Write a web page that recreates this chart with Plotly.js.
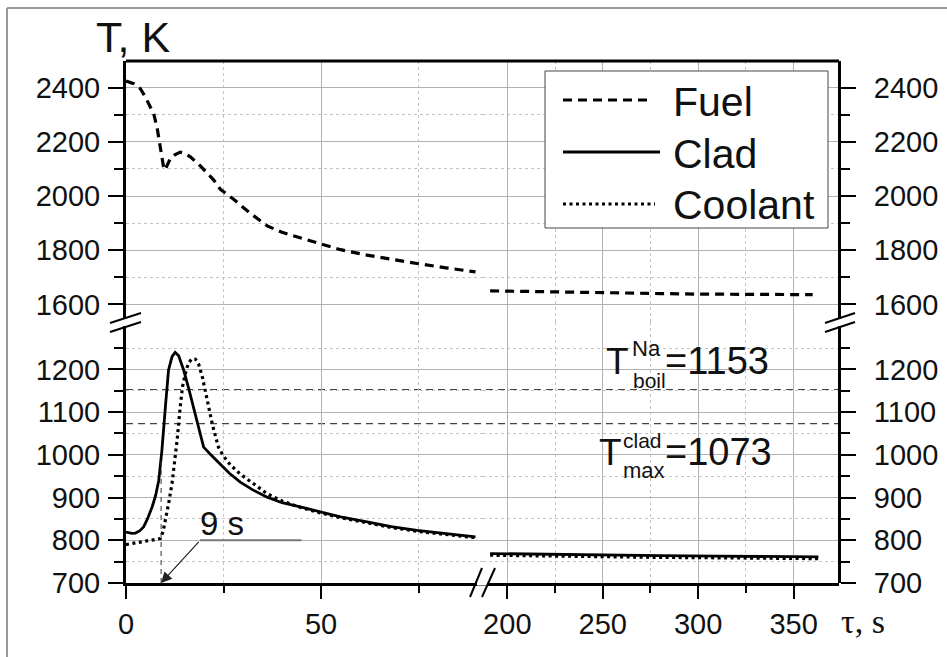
<!DOCTYPE html>
<html><head><meta charset="utf-8">
<script src="https://cdn.plot.ly/plotly-3.0.1.min.js"></script>
<style>html,body{margin:0;padding:0;background:#fff}#chart{width:947px;height:657px}</style>
</head><body><div id="chart"></div>
<script>
// ---------- data ----------
const seriesNames = ['Fuel', 'Clad', 'Coolant'];

const fuelTimeEarly = [0, 2, 3.7, 5, 6.2, 7.1, 8, 8.6, 9.6, 10, 11.4, 12.5, 13.9, 15, 16.5, 19, 22.5, 24.2, 27.6, 31.9, 36.2, 40, 44.7, 49.8, 55, 61.8, 68, 74.6, 82, 89.6];
const fuelTempEarly = [2425, 2415, 2396, 2365, 2330, 2305, 2250, 2195, 2110, 2096, 2140, 2152, 2162, 2158, 2145, 2112, 2059, 2025, 1988, 1936, 1890, 1866, 1845, 1825, 1802, 1782, 1766, 1751, 1735, 1720];
const fuelTimeLate = [191, 220, 250, 280, 300, 330, 360];
const fuelTempLate = [1650, 1646, 1643, 1640, 1638, 1637, 1636];

const cladTimeEarly = [0, 1.5, 2.4, 3.5, 4.5, 5.5, 6.7, 7.6, 8.4, 9.2, 10.1, 10.9, 11.8, 12.6, 13.5, 14.8, 16, 17.3, 18.6, 19.9, 22, 24.2, 26.5, 29.3, 32.5, 36.2, 40, 44.7, 49.8, 55, 61.8, 68, 74.6, 82, 89.6];
const cladTempEarly = [819, 816, 817, 822, 831, 850, 878, 905, 940, 1010, 1112, 1198, 1230, 1240, 1232, 1198, 1158, 1112, 1065, 1018, 998, 979, 957, 936, 918, 901, 888, 878, 866, 855, 843, 832, 823, 815, 808];
const cladTimeLate = [191, 220, 250, 280, 310, 340, 363];
const cladTempLate = [769, 767, 765, 764, 763, 762, 761];

const coolantTimeEarly = [0, 2, 3.7, 5.5, 7.1, 8.8, 9.5, 10.1, 11, 11.8, 12.5, 13.1, 13.9, 14.5, 15.2, 16, 16.9, 17.8, 18.6, 19.5, 20.3, 21.2, 22.1, 22.9, 23.7, 25, 26.7, 29.3, 32.5, 36.2, 40, 44.7, 49.8, 55, 61.8, 68, 74.6, 82, 89.6];
const coolantTempEarly = [790, 793, 796, 798, 800, 804, 820, 847, 890, 933, 985, 1034, 1112, 1160, 1190, 1215, 1225, 1224, 1213, 1185, 1151, 1110, 1073, 1045, 1018, 997, 977, 955, 933, 909, 892, 877, 864, 853, 841, 830, 821, 813, 806];
const coolantTimeLate = [191, 220, 250, 280, 310, 340, 363];
const coolantTempLate = [765, 763, 761, 760, 759, 758, 757];

const xTicksEarly = [0, 50];
const xMinorEarly = [25, 75];
const xTicksLate = [200, 250, 300, 350];
const xMinorLate = [225, 275, 325];
const yTicksLow = [700, 800, 900, 1000, 1100, 1200];
const yMinorLow = [750, 850, 950, 1050, 1150, 1250];
const yTicksHigh = [1600, 1800, 2000, 2200, 2400];
const yMinorHigh = [1700, 1900, 2100, 2300];

const limitValues = [1153, 1073];        // T_boil(Na), T_max(clad)
const onsetTime = 9;                       // "9 s"
const onsetTempTop = 990;                  // clad temperature at 9 s
const leaderTimes = [19, 45];
const leaderTemp = 800;

// ---------- geometry helpers (layout only) ----------
const W = 947, H = 657, ML = 126, MR = 108, MT = 61, MB = 74;
const PW = W - ML - MR, PH = H - MT - MB;
const px = x => (x - ML) / PW;
const py = y => (H - MB - y) / PH;

const font = 'Liberation Sans, Arial, sans-serif';
const black = '#000';

const traces = [
  {x: fuelTimeEarly, y: fuelTempEarly, xaxis: 'x', yaxis: 'y2', name: seriesNames[0],
   mode: 'lines', line: {color: black, width: 3.2, dash: '9px,6px'}},
  {x: fuelTimeLate, y: fuelTempLate, xaxis: 'x2', yaxis: 'y2', name: seriesNames[0],
   mode: 'lines', line: {color: black, width: 3.2, dash: '9px,6px'}},
  {x: coolantTimeEarly, y: coolantTempEarly, xaxis: 'x', yaxis: 'y', name: seriesNames[2],
   mode: 'lines', line: {color: black, width: 3.2, dash: '3px,3.5px'}},
  {x: coolantTimeLate, y: coolantTempLate, xaxis: 'x2', yaxis: 'y', name: seriesNames[2],
   mode: 'lines', line: {color: black, width: 3.2, dash: '3px,3.5px'}},
  {x: cladTimeEarly, y: cladTempEarly, xaxis: 'x', yaxis: 'y', name: seriesNames[1],
   mode: 'lines', line: {color: black, width: 2.8}},
  {x: cladTimeLate, y: cladTempLate, xaxis: 'x2', yaxis: 'y', name: seriesNames[1],
   mode: 'lines', line: {color: black, width: 2.8}},
  // helpers so that the right-hand axes exist
  {x: [], y: [], xaxis: 'x2', yaxis: 'y3', mode: 'lines', showlegend: false},
  {x: [], y: [], xaxis: 'x2', yaxis: 'y4', mode: 'lines', showlegend: false}
];

const gridMajor = '#b2b2b2', gridMinor = '#c4c4c4';
const tickFont = {family: font, size: 29, color: '#111'};

function xAxis(domain, range, ticks, minor) {
  return {
    domain: domain, range: range, anchor: 'y',
    tickmode: 'array', tickvals: ticks, ticktext: ticks.map(String),
    ticks: 'outside', ticklen: 13, tickwidth: 2, tickcolor: black,
    showline: true, linecolor: black, linewidth: 3,
    showgrid: true, gridcolor: gridMajor, gridwidth: 1,
    zeroline: false, tickfont: tickFont, ticklabelstandoff: 0,
    minor: {tickmode: 'array', tickvals: minor, ticks: 'outside', ticklen: 7, tickwidth: 2,
            tickcolor: black, showgrid: true, gridcolor: gridMinor, gridwidth: 1, griddash: 'dot'},
    fixedrange: true
  };
}
function yAxis(domain, range, ticks, minor, extra) {
  return Object.assign({
    domain: domain, range: range,
    tickmode: 'array', tickvals: ticks, ticktext: ticks.map(String),
    ticks: 'outside', ticklen: 15, tickwidth: 2, tickcolor: black,
    showline: true, linecolor: black, linewidth: 3,
    showgrid: true, gridcolor: gridMajor, gridwidth: 1,
    zeroline: false, tickfont: tickFont, ticklabelstandoff: 2,
    minor: {tickmode: 'array', tickvals: minor, ticks: 'outside', ticklen: 9, tickwidth: 2,
            tickcolor: black, showgrid: true, gridcolor: gridMinor, gridwidth: 1, griddash: 'dot'},
    fixedrange: true
  }, extra || {});
}

const lowRange = [700, 1311], highRange = [1535, 2498.6];

const shapes = [];
function line(x0, y0, x1, y1, color, width, dash) {
  shapes.push({type: 'line', xref: 'paper', yref: 'paper', x0: px(x0), y0: py(y0), x1: px(x1), y1: py(y1),
               line: {color: color, width: width, dash: dash || 'solid'}, layer: 'above'});
}
// outer frame
line(7, 8, 7, 660, '#9a9a9a', 2);
line(7, 8, 950, 8, '#9a9a9a', 2);
// top border of the plot
shapes.push({type: 'line', xref: 'paper', yref: 'paper', x0: 0, x1: 1, y0: 1, y1: 1,
             line: {color: black, width: 3}, layer: 'above'});
// limit lines
limitValues.forEach(v => shapes.push({type: 'line', xref: 'paper', yref: 'y', x0: 0, x1: 1, y0: v, y1: v,
  line: {color: '#444', width: 1.2, dash: '7px,5px'}, layer: 'below'}));
// onset marker
shapes.push({type: 'line', xref: 'x', yref: 'y', x0: onsetTime, x1: onsetTime, y0: lowRange[0], y1: onsetTempTop,
  line: {color: '#333', width: 1, dash: '5px,4px'}, layer: 'above'});
shapes.push({type: 'line', xref: 'x', yref: 'y', x0: leaderTimes[0], x1: leaderTimes[1], y0: leaderTemp, y1: leaderTemp,
  line: {color: '#777', width: 2}, layer: 'above'});
// legend box
shapes.push({type: 'rect', xref: 'paper', yref: 'paper', x0: px(545), x1: px(828), y0: py(71), y1: py(228),
  fillcolor: '#fff', line: {color: '#444', width: 1}, layer: 'above'});
line(563, 100, 653, 100, black, 3.2, '9px,6px');
line(563, 152, 660, 152, black, 2.8);
line(563, 204, 655, 204, black, 3.2, '3px,3.5px');
// axis breaks
line(126, 319, 126, 326, '#fff', 6);
line(110, 323, 141, 313, black, 2);
line(110, 332, 141, 322, black, 2);
line(839, 319, 839, 326, '#fff', 6);
line(825, 323, 855, 313, black, 2);
line(825, 332, 855, 322, black, 2);
line(477, 583, 487, 583, '#fff', 5);
line(470, 597, 482, 568, black, 2);
line(482, 597, 495, 568, black, 2);

const annotations = [];
function text(t, x, y, size, fam, anchor) {
  annotations.push({text: t, xref: 'paper', yref: 'paper', x: px(x), y: py(y), xanchor: anchor || 'left',
    yanchor: 'middle', showarrow: false, font: {family: fam || font, size: size, color: '#111'}});
}
text('T, K', 94, 37, 43);
text('τ, s', 839, 621, 34, 'Liberation Serif, Times New Roman, serif');
text('9 s', 198, 523, 33);
// limit labels
text('T', 604, 361, 37);
text('Na', 630, 348, 22);
text('boil', 631, 380, 21);
text('=' + limitValues[0], 663, 361, 38);
text('T', 597, 452, 37);
text('clad', 621, 440, 21);
text('max', 621, 470, 22);
text('=' + limitValues[1], 663, 452, 38);
// legend labels
text(seriesNames[0], 671, 102, 41);
text(seriesNames[1], 671, 154, 41);
text(seriesNames[2], 671, 205, 41);
// arrow
annotations.push({text: '', xref: 'x', yref: 'y', x: onsetTime, y: lowRange[0], axref: 'x', ayref: 'y',
  ax: leaderTimes[0], ay: leaderTemp, showarrow: true, arrowhead: 2, arrowsize: 1.8, arrowwidth: 1.2,
  arrowcolor: '#222', standoff: 0});

const rightMinor = m => ({tickmode: 'array', tickvals: m, ticks: 'outside', ticklen: 9, tickwidth: 2, tickcolor: black, showgrid: false});

const layout = {
  width: W, height: H,
  margin: {l: ML, r: MR, t: MT, b: MB, pad: 0},
  paper_bgcolor: '#fff', plot_bgcolor: '#fff',
  showlegend: false, hovermode: false,
  xaxis: xAxis([0, 0.5], [0, 91.4], xTicksEarly, xMinorEarly),
  xaxis2: xAxis([0.5, 1], [187, 373.8], xTicksLate, xMinorLate),
  yaxis: yAxis([0, 0.5], lowRange, yTicksLow, yMinorLow, {anchor: 'x'}),
  yaxis2: yAxis([0.5, 1], highRange, yTicksHigh, yMinorHigh, {anchor: 'x'}),
  yaxis3: yAxis([0, 0.5], lowRange, yTicksLow, yMinorLow, {anchor: 'free', position: 1, overlaying: 'y', side: 'right',
    showgrid: false, ticklabelstandoff: 12, minor: rightMinor(yMinorLow)}),
  yaxis4: yAxis([0.5, 1], highRange, yTicksHigh, yMinorHigh, {anchor: 'free', position: 1, overlaying: 'y2', side: 'right',
    showgrid: false, ticklabelstandoff: 12, minor: rightMinor(yMinorHigh)}),
  shapes: shapes,
  annotations: annotations
};

Plotly.newPlot('chart', traces, layout, {displayModeBar: false, staticPlot: true});
</script>
</body></html>
